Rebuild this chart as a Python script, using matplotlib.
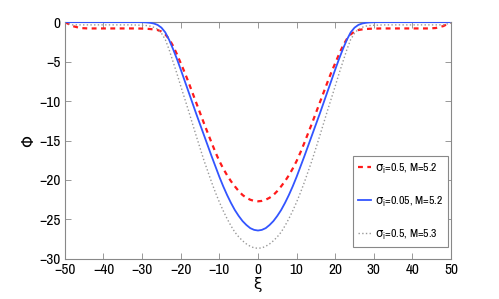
import matplotlib
matplotlib.use("Agg")
import matplotlib.pyplot as plt

# positive half of the xi axis (the curves are symmetric about xi = 0)
xi_half = [0, 1, 2, 3, 4, 5, 6, 7, 8, 9, 10, 11, 12, 13, 14, 15, 16, 17, 18, 19, 20,
           21, 22, 23, 24, 25, 26, 27, 28, 29, 30, 31, 32, 33, 34, 36, 38, 40, 42, 44,
           46, 48, 50]

red_half = [-22.7, -22.65, -22.5, -22.25, -21.9, -21.4, -20.8, -20.15, -19.4, -18.55,
            -17.6, -16.5, -15.3, -14.05, -12.8, -11.5, -10.2, -8.9, -7.6, -6.35, -5.2,
            -4.05, -3.0, -2.15, -1.55, -1.2, -1.0, -0.92, -0.87, -0.84, -0.82, -0.81,
            -0.8, -0.8, -0.8, -0.8, -0.8, -0.8, -0.8, -0.8, -0.75, -0.5, 0.0]

blue_half = [-26.4, -26.32, -26.1, -25.7, -25.2, -24.55, -23.8, -22.9, -21.9, -20.8,
             -19.6, -18.3, -17.0, -15.65, -14.3, -12.95, -11.6, -10.2, -8.8, -7.4, -6.0,
             -4.65, -3.4, -2.25, -1.3, -0.7, -0.35, -0.17, -0.08, -0.03, -0.01, 0.0,
             0.0, 0.0, 0.0, 0.0, 0.0, 0.0, 0.0, 0.0, 0.0, 0.0, 0.0]

gray_half = [-28.65, -28.6, -28.4, -28.1, -27.7, -27.2, -26.6, -25.8, -24.9, -23.9,
             -22.8, -21.6, -20.3, -18.9, -17.5, -15.95, -14.4, -12.8, -11.2, -9.65, -8.1,
             -6.5, -5.0, -3.5, -2.2, -1.4, -0.9, -0.65, -0.5, -0.43, -0.4, -0.38, -0.36,
             -0.35, -0.35, -0.35, -0.35, -0.35, -0.35, -0.35, -0.35, -0.35, -0.1]

xi = [-v for v in xi_half[::-1]] + xi_half[1:]
phi_red = red_half[::-1] + red_half[1:]
phi_blue = blue_half[::-1] + blue_half[1:]
phi_gray = gray_half[::-1] + gray_half[1:]

labels = [r"$\sigma_\mathrm{i}$=0.5, M=5.2", r"$\sigma_\mathrm{i}$=0.05, M=5.2",
          r"$\sigma_\mathrm{i}$=0.5, M=5.3"]
xticks = [-50, -40, -30, -20, -10, 0, 10, 20, 30, 40, 50]
yticks = [0, -5, -10, -15, -20, -25, -30]

plt.rcParams['font.family'] = ['Archivo Narrow', 'DejaVu Sans']
plt.rcParams['mathtext.fontset'] = 'custom'
plt.rcParams['mathtext.rm'] = 'Archivo Narrow'
plt.rcParams['mathtext.it'] = 'DejaVu Sans'
plt.rcParams['mathtext.fallback'] = 'stixsans'

fig = plt.figure(figsize=(4.99, 2.99), dpi=100)
ax = fig.add_axes([0.130, 0.134, 0.774, 0.792])

ax.plot(xi, phi_red, color='#ff1a1a', ls='--', lw=1.6, label=labels[0], dashes=(2.2, 2.0), zorder=3)
ax.plot(xi, phi_blue, color='#3355ff', ls='-', lw=1.3, label=labels[1], zorder=3)
ax.plot(xi, phi_gray, color='#999999', ls=':', lw=1.0, label=labels[2], zorder=3)

ax.set_xlim(-50, 50)
ax.set_ylim(-30, 0)
ax.set_xticks(xticks)
ax.set_yticks(yticks)
ax.set_xticklabels([str(t).replace('-', '\u2212') for t in xticks])
ax.set_yticklabels([str(t).replace('-', '\u2212') for t in yticks])
ax.tick_params(direction='in', length=4, width=0.6, color='#888888', labelsize=11,
               top=True, right=True, pad=3)
for s in ax.spines.values():
    s.set_color('#888888')
    s.set_linewidth(0.8)

ax.set_xlabel('\u03be', fontsize=11, labelpad=0)
ax.set_ylabel('\u03a6', fontsize=11, labelpad=2, rotation=90)

leg = ax.legend(loc='lower right', bbox_to_anchor=(0.992, 0.051), borderaxespad=0,
                fancybox=False, edgecolor='#888888', framealpha=1, fontsize=8.5,
                handlelength=1.1, handletextpad=0.3, labelspacing=1.6, borderpad=0.45)
leg.get_frame().set_linewidth(0.8)

fig.savefig('out.png', dpi=100)
